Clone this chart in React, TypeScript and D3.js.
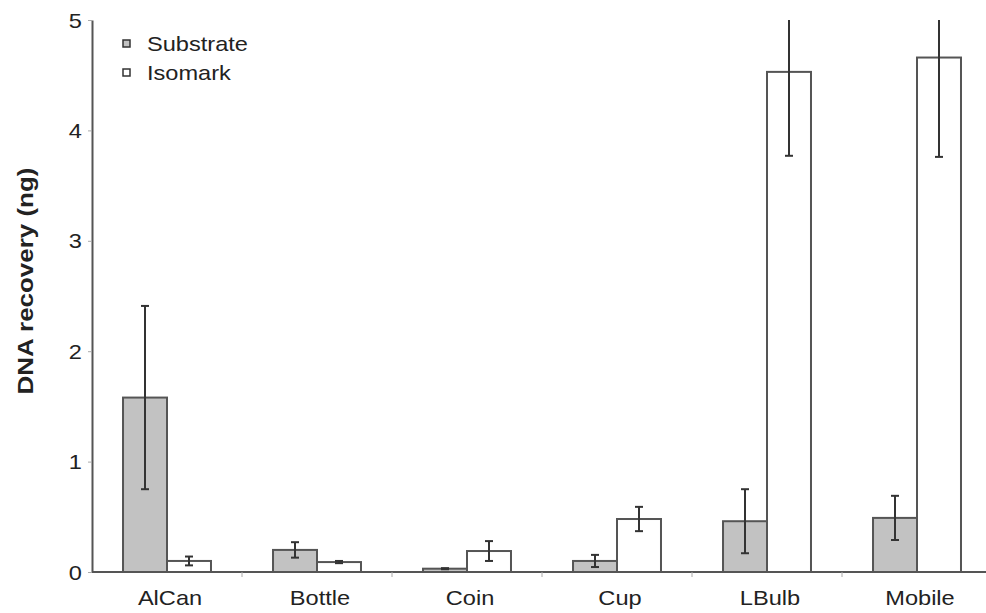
import React, { useEffect, useRef } from 'react';
import * as d3 from 'd3';

const CATEGORIES = ['AlCan', 'Bottle', 'Coin', 'Cup', 'LBulb', 'Mobile'];
const SERIES = ['Substrate', 'Isomark'];
const SUBSTRATE = [1.58, 0.2, 0.03, 0.1, 0.46, 0.49];
const SUBSTRATE_ERR = [0.83, 0.07, 0.005, 0.055, 0.29, 0.2];
const ISOMARK = [0.1, 0.09, 0.19, 0.48, 4.53, 4.66];
const ISOMARK_ERR = [0.04, 0.01, 0.09, 0.11, 0.76, 0.9];
const Y_TICKS = [0, 1, 2, 3, 4, 5];

const FILL = { Substrate: '#c2c2c2', Isomark: '#ffffff' };

export default function App() {
  const ref = useRef<SVGSVGElement>(null);

  useEffect(() => {
    const svg = d3.select(ref.current);
    svg.selectAll('*').remove();

    const W = 986;
    const left = 92;
    const top = 20;
    const bottom = 572;
    const font = '"Liberation Sans", Arial, sans-serif';
    const stretch = 1.18; // the scanned figure is a bit wider than tall

    const x = d3.scaleBand<string>().domain(CATEGORIES).range([left, left + 150 * CATEGORIES.length]).padding(0);
    const xs = d3.scaleBand<string>().domain(SERIES).range([0, x.bandwidth()]).paddingInner(0).paddingOuter(0.705);
    const y = d3.scaleLinear().domain([0, 5]).range([bottom, top]);

    const rows = CATEGORIES.flatMap((c, i) => [
      { cat: c, s: 'Substrate', v: SUBSTRATE[i], e: SUBSTRATE_ERR[i] },
      { cat: c, s: 'Isomark', v: ISOMARK[i], e: ISOMARK_ERR[i] },
    ]);

    svg.append('clipPath').attr('id', 'plot')
      .append('rect').attr('x', left).attr('y', top).attr('width', W - left).attr('height', bottom - top + 2);

    // bars
    svg.append('g').selectAll('rect').data(rows).join('rect')
      .attr('x', (d) => x(d.cat)! + xs(d.s)!)
      .attr('y', (d) => y(d.v))
      .attr('width', xs.bandwidth())
      .attr('height', (d) => bottom - y(d.v))
      .attr('fill', (d) => FILL[d.s as 'Substrate'])
      .attr('stroke', '#555')
      .attr('stroke-width', 2);

    // error bars
    const eg = svg.append('g').attr('clip-path', 'url(#plot)').attr('stroke', '#333').attr('stroke-width', 2);
    rows.forEach((d) => {
      const cx = x(d.cat)! + xs(d.s)! + xs.bandwidth() / 2;
      const y1 = y(d.v + d.e);
      const y2 = y(Math.max(0, d.v - d.e));
      eg.append('line').attr('x1', cx).attr('x2', cx).attr('y1', y1).attr('y2', y2);
      eg.append('line').attr('x1', cx - 4).attr('x2', cx + 4).attr('y1', y1).attr('y2', y1);
      eg.append('line').attr('x1', cx - 4).attr('x2', cx + 4).attr('y1', y2).attr('y2', y2);
    });

    // y axis
    const yAxis = svg.append('g').attr('transform', `translate(${left},0)`)
      .call(d3.axisLeft(y).tickValues(Y_TICKS).tickFormat(d3.format('d')).tickSize(4).tickSizeOuter(0));
    yAxis.select('.domain').attr('stroke', '#555').attr('stroke-width', 2);
    yAxis.selectAll('.tick line').attr('stroke', '#aaa');
    yAxis.selectAll('.tick text').remove();
    yAxis.selectAll('.tick').append('text')
      .attr('transform', `translate(-10,0) scale(${stretch},1)`)
      .attr('dy', '0.35em')
      .attr('text-anchor', 'end')
      .attr('font-size', 20)
      .attr('font-family', font)
      .attr('fill', '#222')
      .text((d) => d3.format('d')(d as number));

    // x axis
    const xAxis = svg.append('g').attr('transform', `translate(0,${bottom})`);
    xAxis.append('line').attr('x1', left).attr('x2', W).attr('y1', 0).attr('y2', 0)
      .attr('stroke', '#555').attr('stroke-width', 2);
    xAxis.selectAll('line.tk').data(CATEGORIES.slice(1)).join('line')
      .attr('class', 'tk')
      .attr('x1', (d) => x(d)!).attr('x2', (d) => x(d)!)
      .attr('y1', 0).attr('y2', 5)
      .attr('stroke', '#aaa');
    xAxis.selectAll('text').data(CATEGORIES).join('text')
      .attr('transform', (d) => `translate(${x(d)! + x.bandwidth() / 2 + 3},33) scale(${stretch},1)`)
      .attr('text-anchor', 'middle')
      .attr('font-size', 20)
      .attr('font-family', font)
      .attr('fill', '#222')
      .text((d) => d);

    svg.append('text')
      .attr('transform', `translate(33,281) rotate(-90) scale(${stretch},1)`)
      .attr('text-anchor', 'middle')
      .attr('font-size', 22)
      .attr('font-weight', 'bold')
      .attr('font-family', font)
      .attr('fill', '#222')
      .text('DNA recovery (ng)');

    // legend
    const lg = svg.append('g');
    SERIES.forEach((s, i) => {
      const ly = 44 + i * 29;
      lg.append('rect').attr('x', 123).attr('y', ly - 4).attr('width', 7).attr('height', 7)
        .attr('fill', FILL[s as 'Substrate']).attr('stroke', '#333').attr('stroke-width', 1.5);
      lg.append('text')
        .attr('transform', `translate(147,${ly + 7}) scale(${stretch},1)`)
        .attr('font-size', 20).attr('font-family', font).attr('fill', '#222')
        .text(s);
    });
  }, []);

  return (
    <svg ref={ref} width={986} height={613}
      style={{ position: 'absolute', left: 0, top: 0, background: '#fff' }} />
  );
}
